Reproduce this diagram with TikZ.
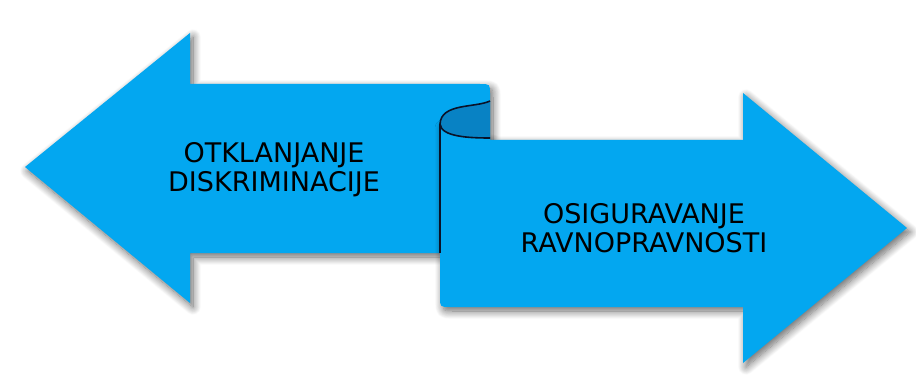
\documentclass[tikz,border=0pt]{standalone}
\usepackage{fontspec}
\setmainfont{DejaVu Sans}
\usetikzlibrary{shadows.blur}
\definecolor{arrowblue}{RGB}{3,167,240}
\definecolor{foldblue}{RGB}{8,130,196}
\definecolor{foldline}{RGB}{10,18,40}

\begin{document}
\begin{tikzpicture}[x=1pt, y=-1pt,
  bluearrow/.style={fill=arrowblue, blur shadow={shadow xshift=3pt, shadow yshift=-4pt, shadow blur radius=8pt, shadow blur steps=12, shadow opacity=60}},
  fold/.style={draw=foldline, line width=1.6pt},
  caption/.style={align=center, font=\fontsize{27}{29}\selectfont}
]
\useasboundingbox (0,0) rectangle (916,385);
\path[bluearrow] (25,167) -- (190,33) -- (190,84) -- (480,84) .. controls (490,84) .. (490,94)
  -- (490,253) -- (190,253) -- (190,303) -- cycle;
\path[bluearrow] (440,124) -- (440,297) .. controls (440,307) .. (450,307) -- (743,307) -- (743,363)
  -- (907,228) -- (743,93) -- (743,140) -- (490,140) -- (490,138)
  .. controls (470,138) and (441,137) .. (440,124) -- cycle;
\coordinate (curltop) at (490,101);
\coordinate (curltip) at (440,124);
\coordinate (curlbot) at (490,138);
\coordinate (foldend) at (440,253);
\fill[foldblue] (curltop) .. controls (475,108) and (441,103) .. (curltip)
  .. controls (441,137) and (470,138) .. (curlbot) -- cycle;
\draw[fold] (curltop) .. controls (475,108) and (441,103) .. (curltip)
  .. controls (441,137) and (470,138) .. (curlbot);
\draw[fold] (curltip) -- (foldend);
\node[caption] (left) at (274,170) {OTKLANJANJE\\DISKRIMINACIJE};
\node[caption] (right) at (644,228) {OSIGURAVANJE\\RAVNOPRAVNOSTI};
\end{tikzpicture}
\end{document}
